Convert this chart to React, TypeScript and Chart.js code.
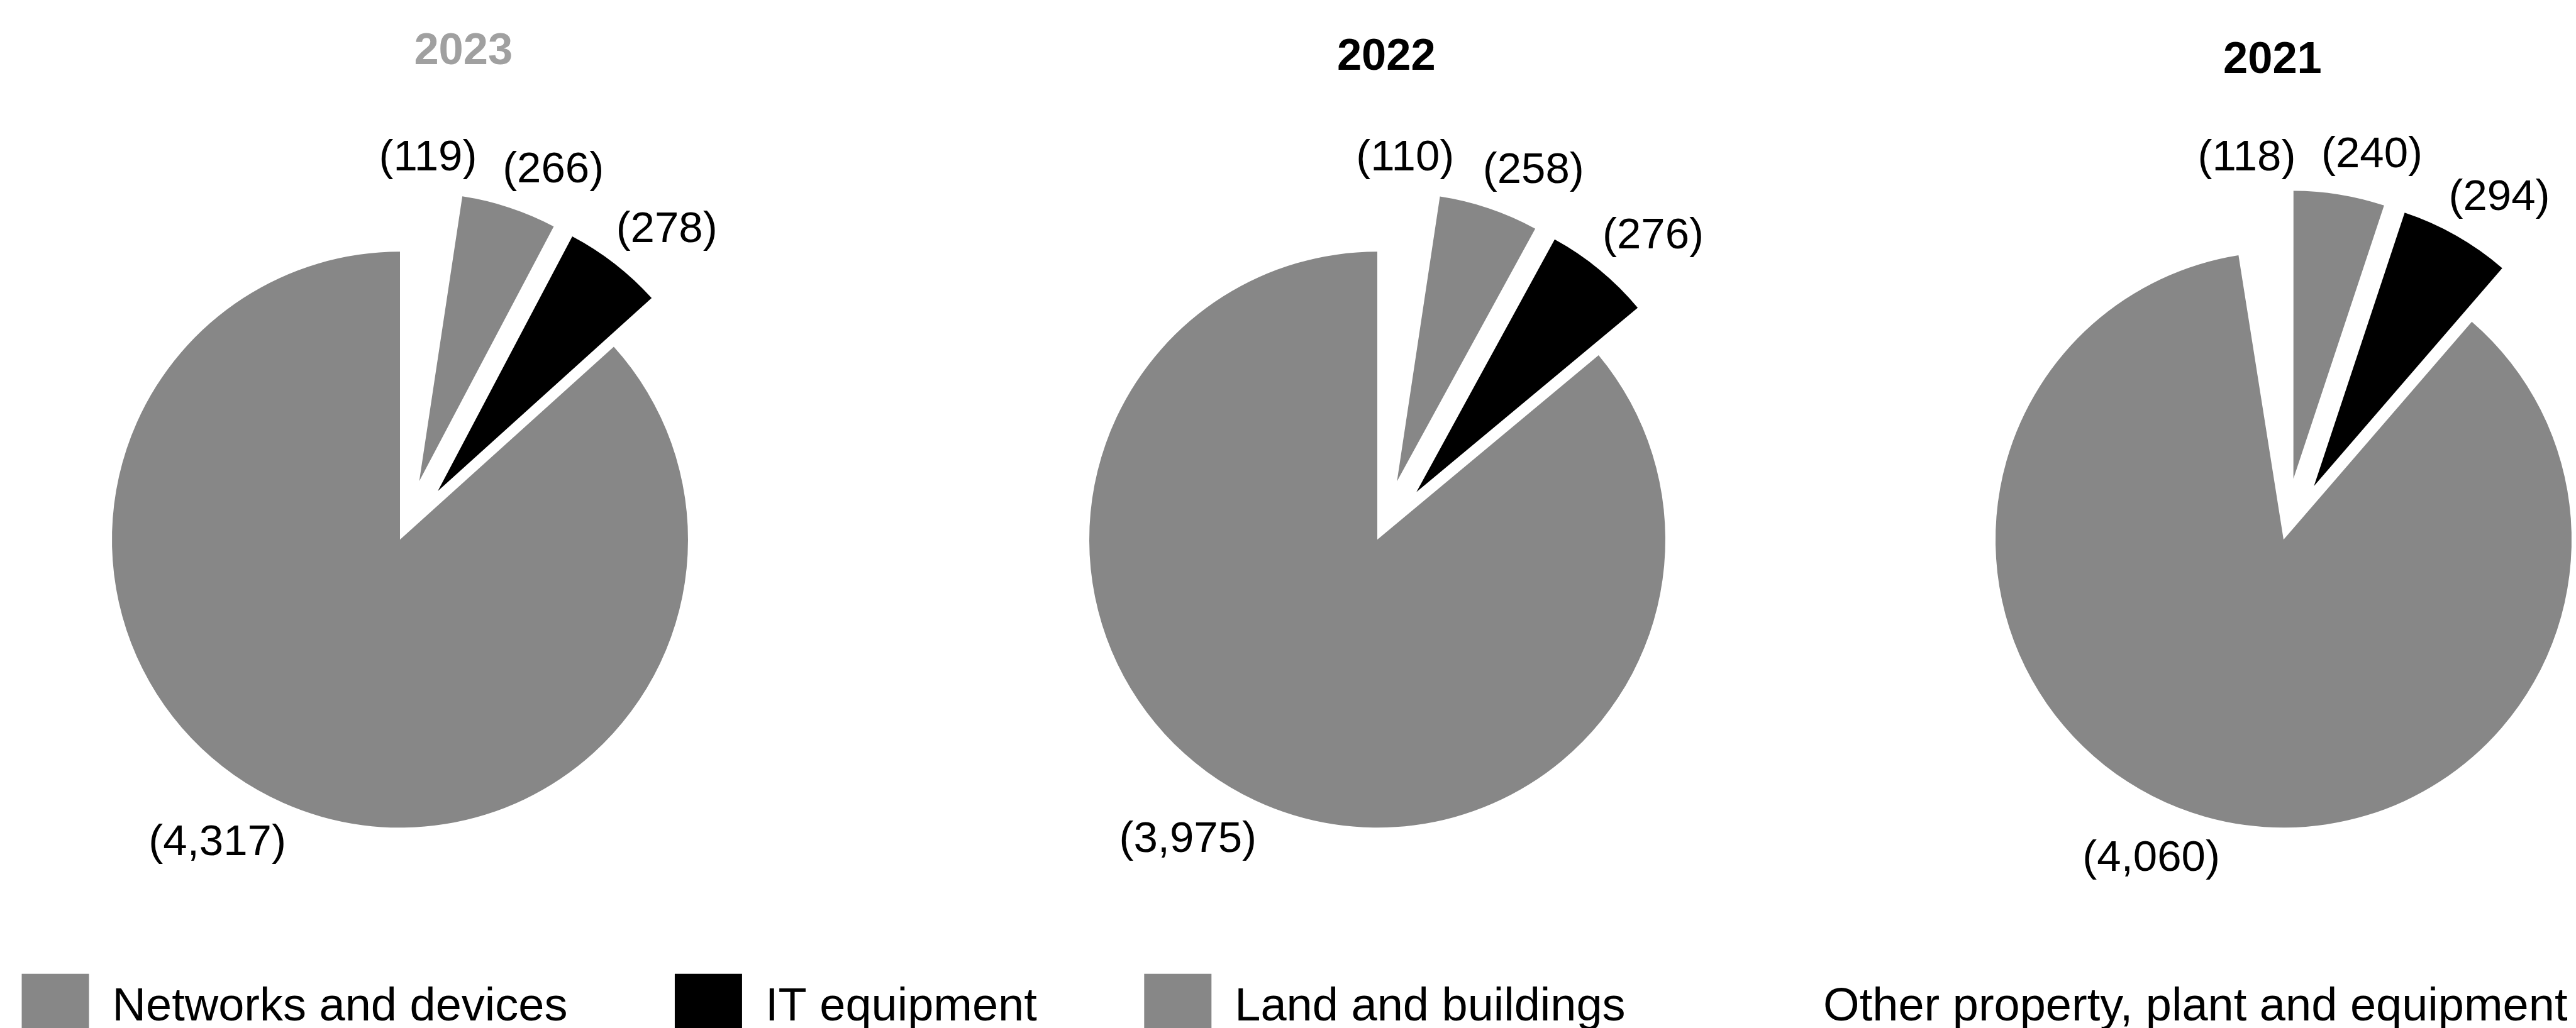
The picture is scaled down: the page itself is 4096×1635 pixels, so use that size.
import React, { useEffect, useRef } from "react";
import { Chart, registerables } from "chart.js";

Chart.register(...registerables);

// ---------------- data ----------------
const YEARS = ["2023", "2022", "2021"];
const CATEGORIES = [
  "Networks and devices",
  "IT equipment",
  "Land and buildings",
  "Other property, plant and equipment",
];
const NETWORKS_AND_DEVICES = [4317, 3975, 4060];
const IT_EQUIPMENT = [278, 276, 294];
const LAND_AND_BUILDINGS = [266, 258, 240];
const OTHER_PPE = [119, 110, 118];

// ---------------- layout / style ----------------
const W = 4096;
const H = 1635;
const FONT = "'Liberation Sans', Arial, Helvetica, sans-serif";
const GREY = "#878787";

const SERIES = [NETWORKS_AND_DEVICES, IT_EQUIPMENT, LAND_AND_BUILDINGS, OTHER_PPE];
const CAT_COLORS = [GREY, "#000000", GREY, "#ffffff"];
const EXPLODE = 98;
const CAT_EXPLODE = [0, EXPLODE, EXPLODE, EXPLODE];
// small label nudges (px) per category, to follow the reference's label placement
const CAT_LABEL_NUDGE = [
  [-44.5, -2.5],
  [10, 3.4],
  [32.8, 9.2],
  [-5.9, 20.2],
];
// clockwise order of slices from the start angle: Other, Land, IT, Networks
const SLICE_ORDER = [3, 2, 1, 0];

const PIE_CANVAS_W = 1500;
const PIE_CENTER_X = [635.8, 2189.5, 3630.7];
const PIE_CENTER_Y = 858.3;
const PIE_RADIUS = 458;
const ROTATION = [0, 0, -9];
const LABEL_SIZE = 69;
const LABEL_GAP = 38;
const TITLE_SIZE = 70.5;
const TITLE_DX = [100.8, 14.3, -17.6];
const TITLE_Y = [82.3, 91.5, 96.6];
const TITLE_COLOR = ["#a0a0a0", "#000000", "#000000"];

// ---------------- plugins ----------------
function explodePlugin(distances: number[]) {
  return {
    id: "explodeSlices",
    afterUpdate(chart: any) {
      const meta = chart.getDatasetMeta(0);
      meta.data.forEach((arc: any, i: number) => {
        const d = distances[i] || 0;
        if (!d) return;
        const mid = (arc.startAngle + arc.endAngle) / 2;
        arc.x += Math.cos(mid) * d;
        arc.y += Math.sin(mid) * d;
      });
    },
  };
}

function sliceLabelPlugin(nudges: number[][]) {
  return {
    id: "sliceLabels",
    afterDatasetsDraw(chart: any) {
      const ctx = chart.ctx;
      const meta = chart.getDatasetMeta(0);
      const values = chart.data.datasets[0].data as number[];
      ctx.save();
      ctx.font = `${LABEL_SIZE}px ${FONT}`;
      ctx.fillStyle = "#000000";
      ctx.textAlign = "center";
      ctx.textBaseline = "middle";
      meta.data.forEach((arc: any, i: number) => {
        const mid = (arc.startAngle + arc.endAngle) / 2;
        const ux = Math.cos(mid);
        const uy = Math.sin(mid);
        const text = `(${values[i].toLocaleString("en-US")})`;
        const w = ctx.measureText(text).width;
        const dist = arc.outerRadius + LABEL_GAP;
        const x = arc.x + ux * dist + (ux * w) / 2 + nudges[i][0];
        const y = arc.y + uy * dist + (uy * LABEL_SIZE) / 2 + nudges[i][1];
        ctx.fillText(text, x, y);
      });
      ctx.restore();
    },
  };
}

function yearTitlePlugin(idx: number) {
  return {
    id: "yearTitle",
    afterDraw(chart: any) {
      const { ctx, chartArea } = chart;
      const cx = (chartArea.left + chartArea.right) / 2 + TITLE_DX[idx];
      ctx.save();
      ctx.font = `bold ${TITLE_SIZE}px ${FONT}`;
      ctx.fillStyle = TITLE_COLOR[idx];
      ctx.textAlign = "center";
      ctx.textBaseline = "middle";
      ctx.fillText(YEARS[idx], cx, TITLE_Y[idx]);
      ctx.restore();
    },
  };
}

// ---------------- components ----------------
function PieChart({ idx }: { idx: number }) {
  const ref = useRef<HTMLCanvasElement>(null);
  useEffect(() => {
    if (!ref.current) return;
    const cx = PIE_CANVAS_W / 2;
    const cy = PIE_CENTER_Y;
    const half = 500;
    const chart = new Chart(ref.current, {
      type: "pie",
      data: {
        labels: SLICE_ORDER.map((c) => CATEGORIES[c]),
        datasets: [
          {
            data: SLICE_ORDER.map((c) => SERIES[c][idx]),
            backgroundColor: SLICE_ORDER.map((c) => CAT_COLORS[c]),
            borderWidth: 0,
            clip: false,
          } as any,
        ],
      },
      options: {
        responsive: false,
        animation: false,
        events: [],
        rotation: ROTATION[idx],
        radius: PIE_RADIUS,
        layout: {
          padding: {
            left: cx - half,
            right: PIE_CANVAS_W - cx - half,
            top: cy - half,
            bottom: H - cy - half,
          },
        },
        plugins: {
          legend: { display: false },
          tooltip: { enabled: false },
          title: { display: false },
        },
      } as any,
      plugins: [
        explodePlugin(SLICE_ORDER.map((c) => CAT_EXPLODE[c])),
        sliceLabelPlugin(SLICE_ORDER.map((c) => CAT_LABEL_NUDGE[c])),
        yearTitlePlugin(idx),
      ],
    });
    return () => chart.destroy();
  }, [idx]);
  return (
    <canvas
      ref={ref}
      width={PIE_CANVAS_W}
      height={H}
      style={{
        position: "absolute",
        left: PIE_CENTER_X[idx] - PIE_CANVAS_W / 2,
        top: 0,
        width: PIE_CANVAS_W,
        height: H,
      }}
    />
  );
}

const LEGEND_W = 4600;
const LEGEND_H = 1800;
const LEGEND_LEFT = -252;

function LegendChart() {
  const ref = useRef<HTMLCanvasElement>(null);
  useEffect(() => {
    if (!ref.current) return;
    const chart = new Chart(ref.current, {
      type: "pie",
      data: {
        labels: CATEGORIES,
        datasets: [
          {
            data: SERIES.map((s) => s[0]),
            backgroundColor: CAT_COLORS,
            borderWidth: 0,
            hidden: true,
          } as any,
        ],
      },
      options: {
        responsive: false,
        animation: false,
        events: [],
        layout: { padding: { left: 21, right: 0, top: 0, bottom: 134.3 } },
        plugins: {
          legend: {
            display: true,
            position: "bottom",
            labels: {
              boxWidth: 107,
              boxHeight: 107,
              padding: 170.5,
              color: "#000000",
              font: { family: FONT, size: 74 },
            },
          },
          tooltip: { enabled: false },
        },
      } as any,
    });
    return () => chart.destroy();
  }, []);
  return (
    <canvas
      ref={ref}
      width={LEGEND_W}
      height={LEGEND_H}
      style={{ position: "absolute", left: LEGEND_LEFT, top: 0, width: LEGEND_W, height: LEGEND_H }}
    />
  );
}

export default function App() {
  return (
    <div
      style={{
        position: "fixed",
        left: 0,
        top: 0,
        width: W,
        height: H,
        overflow: "hidden",
        background: "#ffffff",
      }}
    >
      {YEARS.map((_, i) => (
        <PieChart key={i} idx={i} />
      ))}
      <LegendChart />
    </div>
  );
}
